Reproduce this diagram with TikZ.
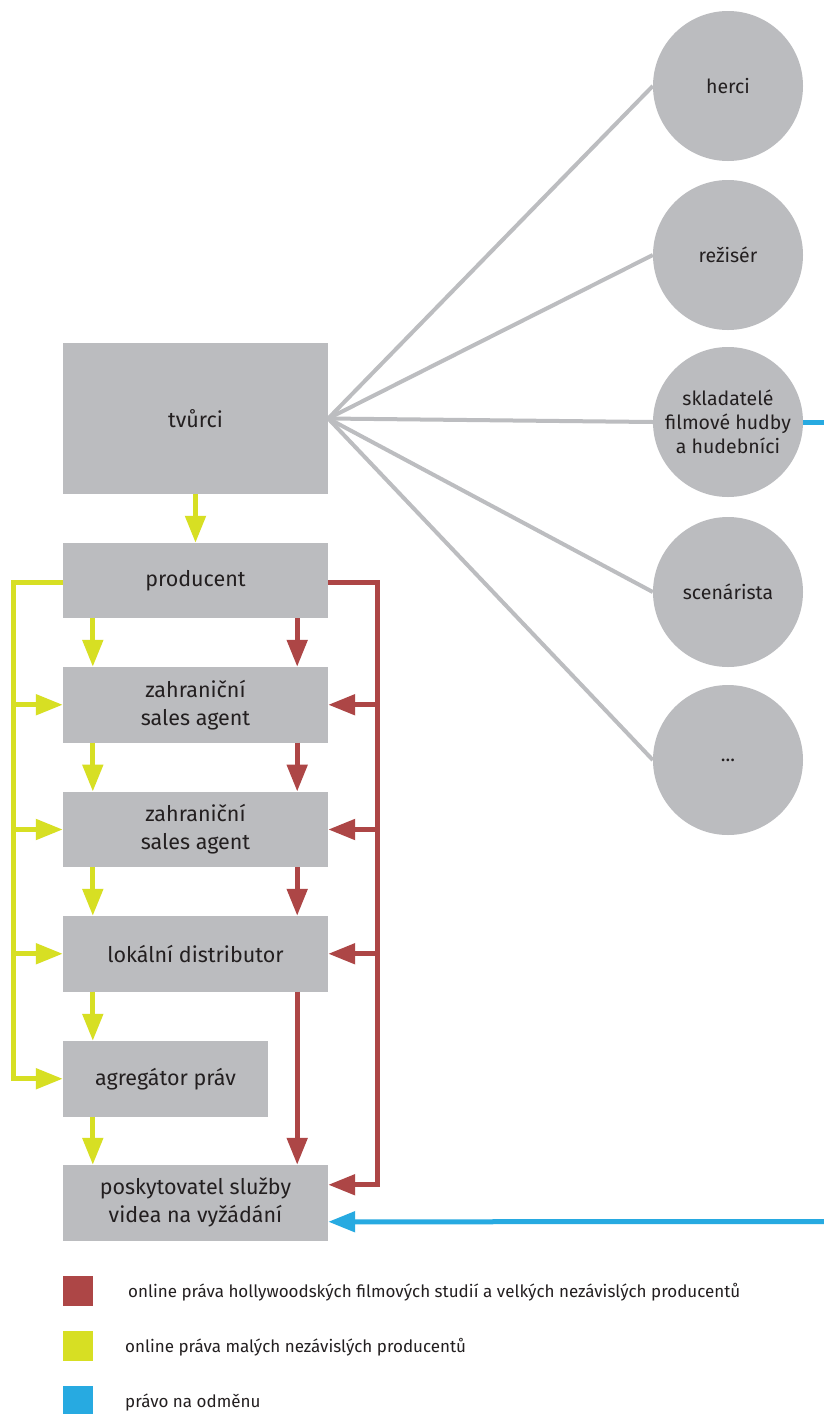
\documentclass[tikz,border=0pt]{standalone}
\usepackage{fontspec}
\setmainfont{Fira Sans}
\usetikzlibrary{arrows.meta}
\definecolor{boxgrey}{HTML}{BBBCBF}
\definecolor{linegrey}{HTML}{BCBDC0}
\definecolor{rred}{HTML}{AD4646}
\definecolor{yyel}{HTML}{D7DF23}
\definecolor{bblue}{HTML}{27AAE1}
\definecolor{txt}{HTML}{231F20}
\tikzset{
  box/.style={fill=boxgrey, inner sep=0pt, text=txt, align=center,
    font=\fontsize{21.5}{28}\selectfont, minimum width=265pt},
  circ/.style={circle, fill=boxgrey, inner sep=0pt, minimum size=150pt, text=txt,
    align=center, font=\fontsize{19.5}{24}\selectfont},
  yline/.style={draw=yyel, line width=5pt},
  rline/.style={draw=rred, line width=5pt},
  yarr/.style={yline, -{Triangle[width=20pt,length=27pt]}},
  rarr/.style={rline, -{Triangle[width=20pt,length=27pt]}},
  barr/.style={draw=bblue, line width=5pt, -{Triangle[width=20pt,length=27pt]}},
  gline/.style={draw=linegrey, line width=4pt},
  legsq/.style={minimum size=30pt, inner sep=0pt},
  legtx/.style={anchor=west, inner sep=0pt, text=txt, font=\fontsize{17}{20}\selectfont},
}
\begin{document}
\begin{tikzpicture}[x=1pt,y=-1pt]
\fill[white] (0,0) rectangle (824,1414);
\useasboundingbox (0,0) rectangle (824,1414);

% boxes
\node[box, minimum height=151pt] (tv) at (195.5,418.5) {tvůrci};
\node[box, minimum height=75pt] (prod) at (195.5,580.5) {producent};
\node[box, minimum height=75.5pt] (z1) at (195.5,704.75) {zahraniční\\sales agent};
\node[box, minimum height=75.5pt] (z2) at (195.5,829.5) {zahraniční\\sales agent};
\node[box, minimum height=75.5pt] (lok) at (195.5,953.75) {lokální distributor};
\node[box, minimum height=75.5pt, minimum width=205pt] (ag) at (165.5,1078.75) {agregátor práv};
\node[box, minimum height=75.5pt] (posk) at (195.5,1202.75) {poskytovatel služby\\videa na vyžádání};

% circles
\node[circ] (herci) at (728,86) {herci};
\node[circ] (rez) at (728,255) {režisér};
\node[circ] (skl) at (728,422) {skladatelé\\filmové hudby\\a hudebníci};
\node[circ] (scen) at (728,592) {scenárista};
\node[circ] (dots) at (728,760) {...};

% grey lines
\draw[gline] (tv.east) -- (herci.west);
\draw[gline] (tv.east) -- (rez.west);
\draw[gline] (tv.east) -- (skl.west);
\draw[gline] (tv.east) -- (scen.west);
\draw[gline] (tv.east) -- (dots.west);

% blue
\coordinate (bo) at (824,422);
\coordinate (bi) at (824,1221.7);
\draw[draw=bblue, line width=5pt] (skl.east) -- (bo);
\draw[barr] (bi) -- ([yshift=-19pt]posk.east);

% yellow
\draw[yarr] (tv.south) -- (prod.north);
\draw[yarr] ([xshift=30pt]prod.south west) -- ([xshift=30pt]z1.north west);
\draw[yarr] ([xshift=30pt]z1.south west) -- ([xshift=30pt]z2.north west);
\draw[yarr] ([xshift=30pt]z2.south west) -- ([xshift=30pt]lok.north west);
\draw[yarr] ([xshift=30pt]lok.south west) -- ([xshift=30pt]ag.north west);
\draw[yarr] ([xshift=30pt]ag.south west) -- ([xshift=30pt]posk.north west);
\coordinate (yl) at (13.3,582);
\draw[yarr] (prod.west |- yl) -- (yl) |- (ag.west);
\draw[yarr] (yl |- z1.west) -- (z1.west);
\draw[yarr] (yl |- z2.west) -- (z2.west);
\draw[yarr] (yl |- lok.west) -- (lok.west);

% red
\draw[rarr] ([xshift=-31pt]prod.south east) -- ([xshift=-31pt]z1.north east);
\draw[rarr] ([xshift=-31pt]z1.south east) -- ([xshift=-31pt]z2.north east);
\draw[rarr] ([xshift=-31pt]z2.south east) -- ([xshift=-31pt]lok.north east);
\draw[rarr] ([xshift=-31pt]lok.south east) -- ([xshift=-31pt]posk.north east);
\coordinate (rl) at (377.7,582);
\draw[rarr] (prod.east |- rl) -- (rl) |- ([yshift=18pt]posk.east);
\draw[rarr] (rl |- z1.east) -- (z1.east);
\draw[rarr] (rl |- z2.east) -- (z2.east);
\draw[rarr] (rl |- lok.east) -- (lok.east);

% legend
\node[legsq, fill=rred] (lr) at (78,1291) {};
\node[legsq, fill=yyel] (ly) at (78,1346) {};
\node[legsq, fill=bblue, minimum height=28pt] (lb) at (78,1400) {};
\node[legtx] (tr) at (128,1292) {online práva hollywoodských filmových studií a velkých nezávislých producentů};
\node[legtx] (ty) at (125,1347) {online práva malých nezávislých producentů};
\node[legtx] (tb) at (125,1402) {právo na odměnu};
\end{tikzpicture}
\end{document}
